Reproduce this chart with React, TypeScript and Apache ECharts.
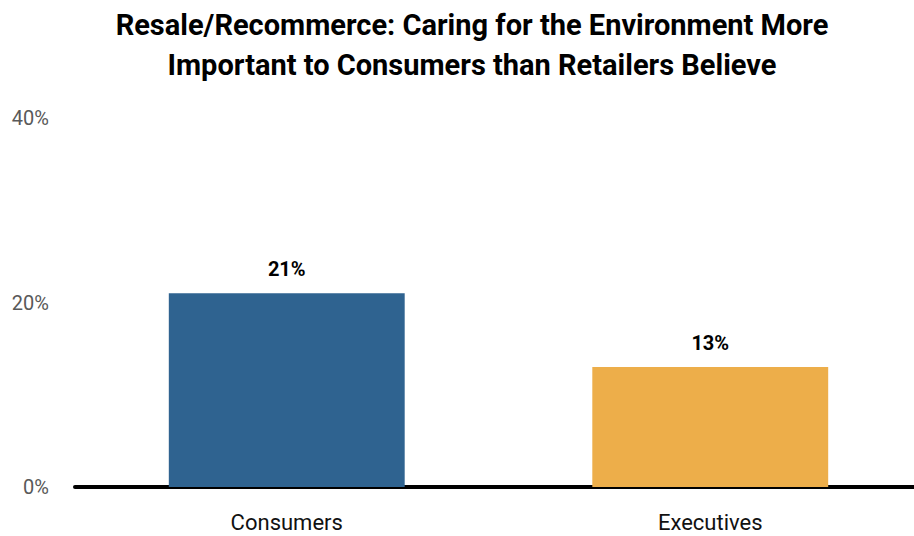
import React, { useEffect, useRef } from "react";
import * as echarts from "echarts";

const categories = ["Consumers", "Executives"];
const values = [21, 13];
const barColors = ["#2f6390", "#edae4a"];
const yTicks = [0, 20, 40];
const titleLines = [
  "Resale/Recommerce: Caring for the Environment More",
  "Important to Consumers than Retailers Believe",
];

export default function App() {
  const ref = useRef<HTMLDivElement>(null);
  useEffect(() => {
    if (!ref.current) return;
    const chart = echarts.init(ref.current, null, { renderer: "svg" });
    chart.setOption({
      animation: false,
      textStyle: { fontFamily: "Roboto" },
      graphic: [
        {
          type: "text",
          x: 472,
          y: 5,
          style: {
            text: titleLines.join("\n"),
            textAlign: "center",
            textVerticalAlign: "top",
            fontFamily: "Roboto",
            fontWeight: "bold",
            fontSize: 29,
            lineHeight: 40,
            fill: "#000",
          },
        },
      ],
      grid: { left: 75, right: 0, top: 118, bottom: 49, containLabel: false },
      xAxis: {
        type: "category",
        data: categories,
        axisLine: { show: true, lineStyle: { color: "#000", width: 4 } },
        axisTick: { show: false },
        axisLabel: { fontSize: 22, color: "#111", margin: 24, fontFamily: "Roboto" },
      },
      yAxis: {
        type: "value",
        min: yTicks[0],
        max: yTicks[yTicks.length - 1],
        interval: 20,
        splitLine: { show: false },
        axisLine: { show: false },
        axisTick: { show: false },
        axisLabel: {
          fontSize: 20,
          color: "#595959",
          margin: 26,
          formatter: (v: number) => v + "%",
        },
      },
      series: [
        {
          type: "bar",
          barWidth: "55.7%",
          data: values.map((v, i) => ({ value: v, itemStyle: { color: barColors[i] } })),
          label: {
            show: true,
            position: "top",
            distance: 14,
            fontSize: 20,
            fontWeight: "bold",
            color: "#000",
            formatter: (p: any) => p.value + "%",
          },
        },
      ],
    });
    return () => chart.dispose();
  }, []);
  return (
    <div style={{ position: "absolute", left: 0, top: 0, width: 914, height: 536, overflow: "hidden" }}>
      <div ref={ref} style={{ width: 922, height: 536 }} />
    </div>
  );
}
